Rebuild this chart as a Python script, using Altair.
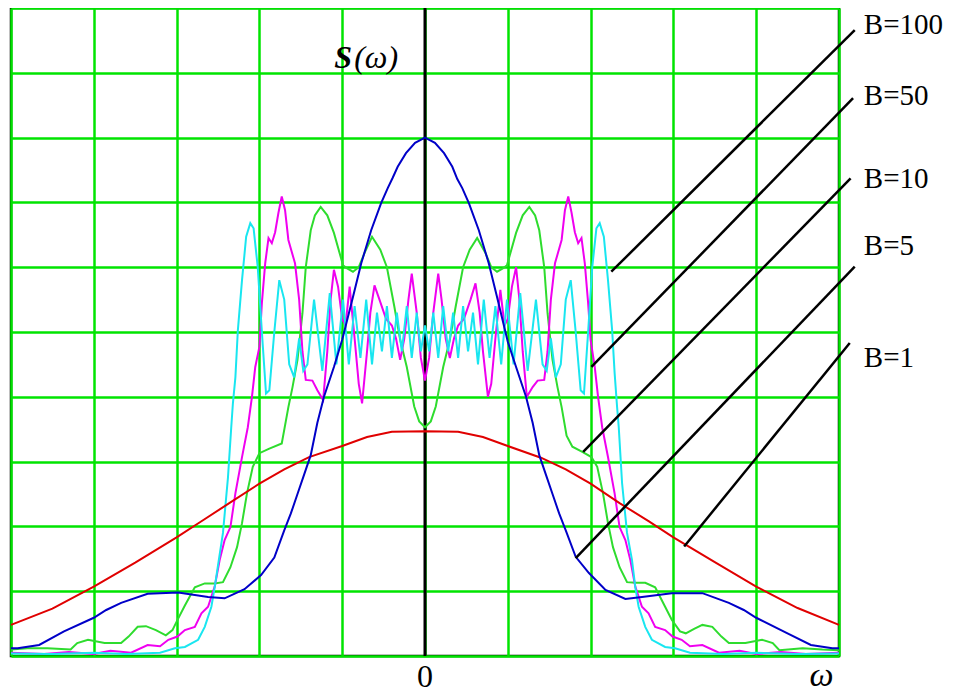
import altair as alt
import pandas as pd

# ---------------- data (x in grid units, y in grid units) ----------------
b1_x = [-5.0, -4.5, -4.0, -3.5, -3.0, -2.7, -2.35, -2.0, -1.7, -1.4, -1.0, -0.7, -0.4, 0.0,
        0.4, 0.7, 1.0, 1.4, 1.7, 2.0, 2.35, 2.7, 3.0, 3.5, 4.0, 4.5, 5.0]
b1_y = [0.48, 0.73, 1.07, 1.44, 1.83, 2.08, 2.37, 2.66, 2.88, 3.07, 3.24, 3.38, 3.46, 3.47,
        3.46, 3.38, 3.24, 3.06, 2.88, 2.66, 2.36, 2.08, 1.83, 1.45, 1.07, 0.74, 0.48]

b5_x = [-5.0, -4.92, -4.66, -4.36, -4.0, -3.85, -3.67, -3.35, -2.98, -2.62, -2.42, -2.18, -1.98,
        -1.82, -1.70, -1.62, -1.54, -1.46, -1.38, -1.30, -1.22, -1.10, -1.0, -0.87, -0.77, -0.65,
        -0.53, -0.45, -0.39, -0.33, -0.23, -0.12, 0.0,
        0.12, 0.23, 0.33, 0.39, 0.45, 0.53, 0.65, 0.77, 0.87, 1.0, 1.10, 1.22, 1.30, 1.38, 1.46,
        1.54, 1.62, 1.70, 1.82, 1.98, 2.18, 2.42, 2.62, 2.98, 3.35, 3.67, 3.85, 4.0, 4.36, 4.66,
        4.92, 5.0]
b5_y = [0.12, 0.12, 0.17, 0.38, 0.59, 0.71, 0.82, 0.96, 0.98, 0.91, 0.89, 1.03, 1.25,
        1.52, 1.94, 2.2, 2.5, 2.8, 3.1, 3.6, 4.0, 4.46, 4.88, 5.54, 6.06, 6.57,
        6.99, 7.22, 7.38, 7.55, 7.76, 7.92, 8.0,
        7.92, 7.76, 7.55, 7.36, 7.22, 6.99, 6.57, 6.06, 5.54, 4.85, 4.46, 4.0, 3.6, 3.1, 2.8,
        2.5, 2.2, 1.94, 1.53, 1.28, 1.02, 0.88, 0.91, 0.97, 0.97, 0.82, 0.71, 0.59, 0.36, 0.17,
        0.12, 0.12]

b10_x = [-5.0, -4.8, -4.56, -4.28, -4.2, -4.07, -3.87, -3.67, -3.58, -3.47, -3.37, -3.25, -3.13,
         -3.05, -2.98, -2.90, -2.78, -2.66, -2.54, -2.44, -2.35, -2.27, -2.21, -2.15, -2.08, -2.0,
         -1.88, -1.73, -1.65, -1.60, -1.54, -1.48, -1.44, -1.38, -1.33, -1.26, -1.18, -1.10, -0.99,
         -0.94, -0.87, -0.80, -0.73, -0.64, -0.54, -0.46, -0.37, -0.30, -0.22, -0.13, -0.07, 0.0,
         0.07, 0.13, 0.22, 0.30, 0.37, 0.46, 0.54, 0.63, 0.73, 0.80, 0.87, 0.94, 0.99, 1.10, 1.18,
         1.26, 1.33, 1.38, 1.44, 1.48, 1.54, 1.60, 1.65, 1.71, 1.78, 1.90, 2.01, 2.08, 2.15, 2.21,
         2.27, 2.35, 2.44, 2.54, 2.66, 2.78, 2.90, 2.98, 3.08, 3.15, 3.25, 3.35, 3.47, 3.58, 3.67,
         3.87, 4.07, 4.20, 4.28, 4.56, 4.80, 5.0]
b10_y = [0.10, 0.12, 0.12, 0.10, 0.20, 0.25, 0.20, 0.20, 0.30, 0.45, 0.46, 0.40, 0.32,
         0.40, 0.58, 0.78, 1.06, 1.12, 1.12, 1.14, 1.37, 1.68, 2.05, 2.51, 2.92, 3.13,
         3.20, 3.28, 3.84, 4.15, 4.57, 5.29, 6.0, 6.57, 6.8, 6.93, 6.8, 6.53, 6.03,
         5.98, 5.93, 6.0, 6.22, 6.47, 6.27, 6.0, 5.39, 4.88, 4.46, 3.85, 3.62, 3.53,
         3.62, 3.85, 4.46, 4.88, 5.39, 6.0, 6.27, 6.45, 6.22, 6.0, 5.93, 5.98, 6.03, 6.53, 6.8,
         6.93, 6.8, 6.57, 6.0, 5.29, 4.57, 4.15, 3.84, 3.4, 3.23, 3.15, 3.07, 2.92, 2.51, 2.05,
         1.68, 1.37, 1.14, 1.13, 1.13, 1.06, 0.76, 0.56, 0.38, 0.35, 0.42, 0.48, 0.45, 0.30, 0.20,
         0.20, 0.25, 0.20, 0.09, 0.12, 0.10, 0.09]

b50_x = [-5.0, -4.6, -4.3, -4.0, -3.8, -3.55, -3.35, -3.2, -3.1, -2.99, -2.90, -2.78, -2.70, -2.62,
         -2.54, -2.48, -2.42, -2.35, -2.29, -2.21, -2.14, -2.09, -2.05, -2.0, -1.97, -1.93, -1.89,
         -1.85, -1.81, -1.77, -1.73, -1.69, -1.65, -1.57, -1.52, -1.48, -1.44, -1.36, -1.30, -1.23,
         -1.18, -1.14, -1.10, -1.05, -1.0, -0.96, -0.91, -0.85, -0.80, -0.76, -0.70, -0.66, -0.61,
         -0.55, -0.47, -0.40, -0.35, -0.30, -0.25, -0.20, -0.16, -0.10, -0.05, 0.0,
         0.05, 0.10, 0.16, 0.20, 0.25, 0.30, 0.35, 0.40, 0.47, 0.55, 0.61, 0.66, 0.70, 0.76, 0.80,
         0.85, 0.91, 0.96, 1.0, 1.05, 1.10, 1.14, 1.18, 1.23, 1.30, 1.36, 1.44, 1.48, 1.52, 1.57,
         1.65, 1.69, 1.73, 1.77, 1.81, 1.85, 1.89, 1.93, 1.97, 2.0, 2.05, 2.09, 2.14, 2.21, 2.29,
         2.35, 2.42, 2.48, 2.54, 2.62, 2.70, 2.78, 2.90, 2.99, 3.10, 3.20, 3.35, 3.55, 3.80, 4.0,
         4.3, 4.6, 5.0]
b50_y = [0.05, 0.03, 0.06, 0.03, 0.08, 0.05, 0.17, 0.15, 0.25, 0.30, 0.40, 0.45, 0.66, 0.76,
         1.07, 1.48, 1.79, 1.99, 2.51, 3.07, 3.53, 4.0, 4.46, 4.77, 5.45, 6.06, 6.45,
         6.37, 6.54, 6.84, 7.09, 6.88, 6.42, 6.06, 5.5, 4.7, 4.26, 4.25, 4.1, 3.95,
         4.7, 5.5, 5.96, 5.7, 5.2, 5.1, 5.7, 4.9, 4.2, 3.9, 4.7, 5.3, 5.72,
         5.5, 5.2, 5.1, 4.9, 4.57, 4.9, 5.5, 5.9, 5.3, 4.6, 4.25,
         4.6, 5.3, 5.9, 5.5, 4.9, 4.6, 4.9, 5.1, 5.2, 5.5, 5.75, 5.3, 4.7, 4.0, 4.2,
         4.9, 5.65, 5.1, 5.2, 5.7, 6.0, 5.5, 4.7, 4.0, 4.15, 4.25, 4.26, 4.7, 5.5, 6.06,
         6.42, 6.88, 7.09, 6.84, 6.54, 6.37, 6.45, 6.06, 5.45, 4.88, 4.46, 4.0, 3.53, 3.07, 2.51,
         1.99, 1.79, 1.48, 1.07, 0.76, 0.66, 0.45, 0.40, 0.30, 0.25, 0.15, 0.17, 0.05, 0.08, 0.03,
         0.06, 0.03, 0.05]

b100_x = [-5.0, -4.5, -4.0, -3.6, -3.2, -3.02, -2.90, -2.74, -2.66, -2.58, -2.54, -2.50, -2.44,
          -2.38, -2.34, -2.32, -2.29, -2.26, -2.21, -2.16, -2.11, -2.07, -2.02, -1.97, -1.92, -1.88,
          -1.82, -1.76, -1.70, -1.64, -1.58, -1.52, -1.47, -1.42, -1.34, -1.24, -1.15, -1.07, -0.99,
          -0.92, -0.85, -0.78, -0.71, -0.64, -0.58, -0.52, -0.46, -0.40, -0.34, -0.28, -0.22, -0.16,
          -0.10, -0.05, 0.0,
          0.05, 0.10, 0.16, 0.22, 0.28, 0.34, 0.40, 0.46, 0.52, 0.58, 0.64, 0.71, 0.78, 0.85, 0.92,
          0.99, 1.07, 1.15, 1.24, 1.34, 1.42, 1.47, 1.52, 1.58, 1.64, 1.70, 1.76, 1.82, 1.88, 1.92,
          1.97, 2.02, 2.07, 2.11, 2.16, 2.21, 2.26, 2.29, 2.32, 2.34, 2.38, 2.44, 2.50, 2.54, 2.58,
          2.66, 2.74, 2.90, 3.02, 3.2, 3.6, 4.0, 4.5, 5.0]
b100_y = [0.04, 0.03, 0.05, 0.03, 0.05, 0.12, 0.14, 0.25, 0.45, 0.76, 1.06, 1.40, 1.9,
          2.75, 3.53, 3.9, 4.3, 5.03, 5.8, 6.47, 6.68, 6.6, 6.0, 5.0, 4.05, 4.1,
          5.0, 5.8, 5.5, 4.5, 4.3, 4.9, 4.4, 4.5, 5.5, 4.4, 5.6, 4.5, 5.5,
          4.5, 5.4, 4.6, 5.5, 4.5, 5.3, 4.7, 5.4, 4.6, 5.3, 4.7, 5.4, 4.6,
          5.3, 4.7, 5.1,
          4.7, 5.3, 4.6, 5.4, 4.7, 5.3, 4.6, 5.4, 4.7, 5.3, 4.5, 5.5, 4.6, 5.4, 4.5,
          5.5, 4.5, 5.6, 4.4, 5.5, 4.5, 4.4, 4.9, 4.3, 4.5, 5.5, 5.8, 5.0, 4.1, 4.05,
          5.0, 6.0, 6.6, 6.68, 6.47, 5.8, 5.03, 4.37, 3.84, 3.53, 2.67, 1.9, 1.48, 1.06, 0.76,
          0.45, 0.25, 0.14, 0.12, 0.05, 0.03, 0.05, 0.03, 0.04]

series_names = ["B=1", "B=5", "B=10", "B=50", "B=100"]
series_colors = ["#E00000", "#0000C8", "#2EDC2E", "#F000F0", "#19E6F0"]

# annotation pointers: start on the curve, end near the label
ptr_x = [2.25, 2.01, 1.91, 1.82, 3.13]
ptr_y = [5.93, 4.46, 3.15, 1.51, 1.69]
ptr_x2 = [5.19, 5.17, 5.14, 5.19, 5.13]
ptr_y2 = [9.66, 8.61, 7.37, 6.01, 4.83]
label_text = ["B=100", "B=50", "B=10", "B=5", "B=1"]
label_x = [5.30, 5.30, 5.30, 5.30, 5.30]
label_y = [9.60, 8.50, 7.22, 6.19, 4.46]

grid_x = [-5, -4, -3, -2, -1, 0, 1, 2, 3, 4, 5]
grid_y = [0, 1, 2, 3, 4, 5, 6, 7, 8, 9, 10]

# ---------------- chart ----------------
GRID = "#00E400"
SERIF = "Liberation Serif"

xs = alt.Scale(domain=[-5, 5], nice=False, zero=False)
ys = alt.Scale(domain=[0, 10], nice=False, zero=False)
xaxis = alt.Axis(values=grid_x, grid=True, gridColor=GRID, gridWidth=2.5, gridOpacity=1,
                 labels=False, ticks=False, domain=False, title=None)
yaxis = alt.Axis(values=grid_y, grid=True, gridColor=GRID, gridWidth=2.5, gridOpacity=1,
                 labels=False, ticks=False, domain=False, title=None)


def X(field="x"):
    return alt.X(f"{field}:Q", scale=xs, axis=xaxis)


def Y(field="y"):
    return alt.Y(f"{field}:Q", scale=ys, axis=yaxis)


center = alt.Chart(pd.DataFrame({"x": [0]})).mark_rule(color="black", strokeWidth=3).encode(x=X())

curve_data = [(b1_x, b1_y), (b5_x, b5_y), (b10_x, b10_y), (b50_x, b50_y), (b100_x, b100_y)]
curves = []
for (cx, cy), col in zip(curve_data, series_colors):
    df = pd.DataFrame({"x": cx, "y": cy})
    curves.append(
        alt.Chart(df).mark_line(color=col, strokeWidth=2, interpolate="linear").encode(x=X(), y=Y())
    )
# drawing order: green, magenta, cyan, red, blue
layer_curves = [curves[2], curves[3], curves[4], curves[0], curves[1]]

ptr_df = pd.DataFrame({"x": ptr_x, "y": ptr_y, "x2": ptr_x2, "y2": ptr_y2})
pointers = alt.Chart(ptr_df).mark_rule(color="black", strokeWidth=2.5).encode(
    x=X(), y=Y(), x2="x2:Q", y2="y2:Q"
)

lab_df = pd.DataFrame({"x": label_x, "y": label_y, "t": label_text})
labels = alt.Chart(lab_df).mark_text(
    font=SERIF, fontSize=29, align="left", baseline="alphabetic", color="black"
).encode(x=X(), y=Y(), text="t:N")

zero_df = pd.DataFrame({"x": [0.0], "y": [-0.48], "t": ["0"]})
omega_df = pd.DataFrame({"x": [4.79], "y": [-0.46], "t": ["ω"]})
zero_lab = alt.Chart(zero_df).mark_text(
    font=SERIF, fontSize=32, align="center", baseline="alphabetic", color="black"
).encode(x=X(), y=Y(), text="t:N")
omega_lab = alt.Chart(omega_df).mark_text(
    font=SERIF, fontSize=34, fontStyle="italic", align="center", baseline="alphabetic", color="black"
).encode(x=X(), y=Y(), text="t:N")

s_df = pd.DataFrame({"x": [-0.88], "y": [9.07], "t": ["S"]})
p_df = pd.DataFrame({"x": [-0.88], "y": [9.07], "t": ["(ω)"]})
s_lab = alt.Chart(s_df).mark_text(
    font=SERIF, fontSize=32, fontWeight="bold", fontStyle="italic", align="right",
    baseline="alphabetic", color="black"
).encode(x=X(), y=Y(), text="t:N")
p_lab = alt.Chart(p_df).mark_text(
    font=SERIF, fontSize=32, fontStyle="italic", align="left", baseline="alphabetic",
    color="black", dx=2
).encode(x=X(), y=Y(), text="t:N")

chart = alt.layer(
    center, *layer_curves, pointers, labels, zero_lab, omega_lab, s_lab, p_lab
).properties(
    width=828, height=648,
    padding={"left": 3, "top": 0, "right": 114, "bottom": 37},
    autosize="none",
    background="white",
).configure_view(stroke="black", strokeWidth=2.5)

chart.save("out.html", embed_options={"renderer": "svg", "actions": False})
